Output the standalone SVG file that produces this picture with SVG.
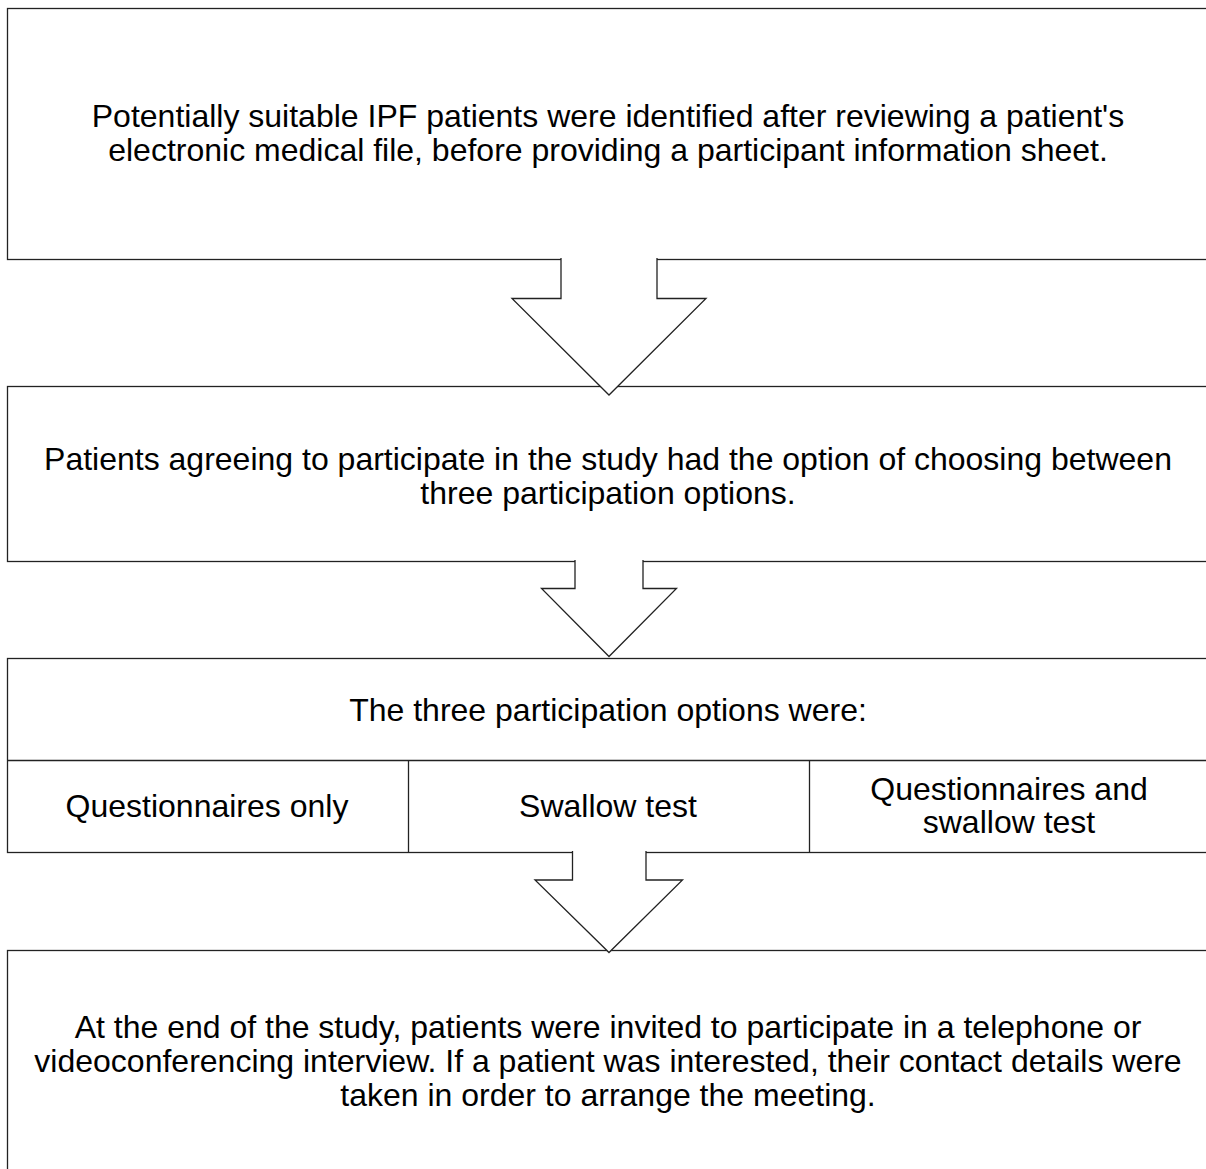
<svg xmlns="http://www.w3.org/2000/svg" width="1206" height="1169" viewBox="0 0 1206 1169">
<style>
.box{fill:#fff;stroke:#222;stroke-width:1.3}
.cell{fill:none;stroke:#222;stroke-width:1.3}
.arr{fill:#fff;stroke:#222;stroke-width:1.3;stroke-linejoin:miter}
text{font-family:"Liberation Sans",Arial,sans-serif;font-size:32px;fill:#000;text-anchor:middle}
</style>
<rect width="1206" height="1169" fill="#fff"/>
<g id="node1">
<rect class="box" x="7.5" y="8.5" width="1210" height="251"/>
<text x="608" y="127">Potentially suitable IPF patients were identified after reviewing a patient's</text>
<text x="608" y="161">electronic medical file, before providing a participant information sheet.</text>
</g>
<g id="node2">
<rect class="box" x="7.5" y="386.5" width="1210" height="175"/>
<text x="608" y="470">Patients agreeing to participate in the study had the option of choosing between</text>
<text x="608" y="504">three participation options.</text>
</g>
<g id="node3">
<rect class="box" x="7.5" y="658.5" width="1210" height="194"/>
<line class="cell" x1="7.5" y1="760.5" x2="1206" y2="760.5"/>
<line class="cell" x1="408.5" y1="760.5" x2="408.5" y2="852.5"/>
<line class="cell" x1="809.5" y1="760.5" x2="809.5" y2="852.5"/>
<text x="608" y="721">The three participation options were:</text>
<text x="207" y="817">Questionnaires only</text>
<text x="608" y="817">Swallow test</text>
<text x="1009" y="800">Questionnaires and</text>
<text x="1009" y="833">swallow test</text>
</g>
<g id="node4">
<rect class="box" x="7.5" y="950.5" width="1210" height="260"/>
<text x="608" y="1038">At the end of the study, patients were invited to participate in a telephone or</text>
<text x="608" y="1072">videoconferencing interview. If a patient was interested, their contact details were</text>
<text x="608" y="1106">taken in order to arrange the meeting.</text>
</g>
<g id="connectors">
<path class="arr" d="M561 258 V298.5 H512 L609 395 L706 298.5 H657 V258"/>
<path class="arr" d="M575 560 V588.5 H541.5 L609 656.5 L676.5 588.5 H643 V560"/>
<path class="arr" d="M572.5 851 V880 H535 L609 952.5 L682.5 880 H646 V851"/>
</g>
</svg>
